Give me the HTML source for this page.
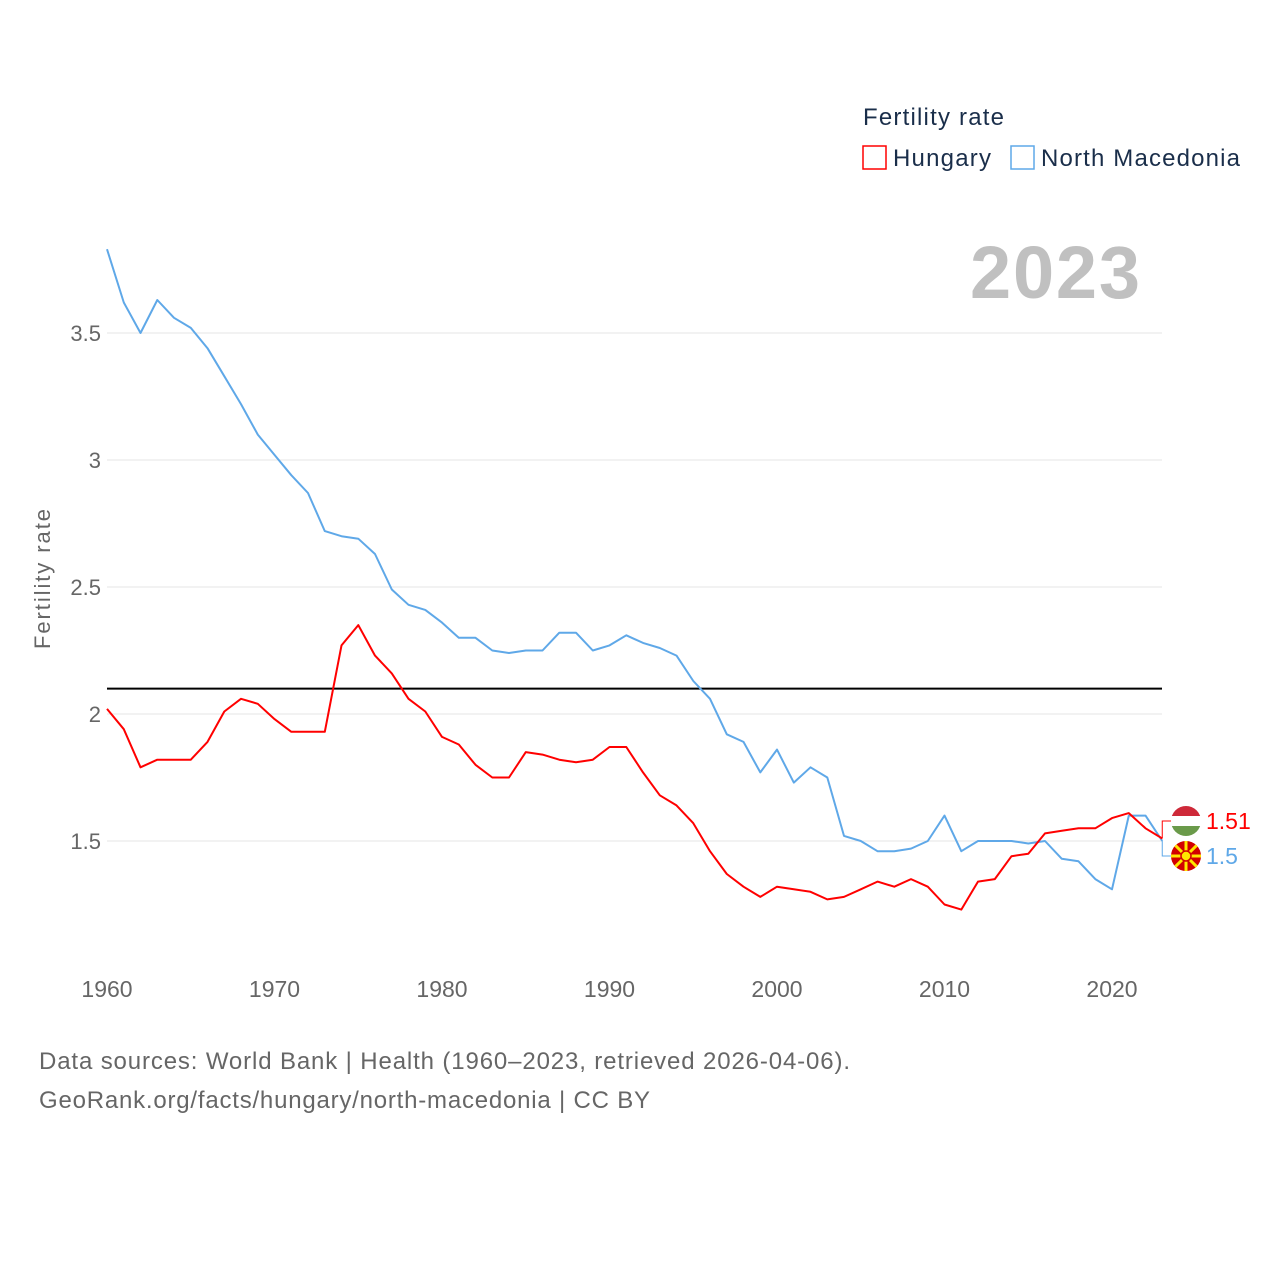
<!DOCTYPE html>
<html><head><meta charset="utf-8"><style>
body{margin:0;background:#fff;}
svg text{font-family:"Liberation Sans",sans-serif;}
</style></head><body>
<svg id="chart" width="1280" height="1280" viewBox="0 0 1280 1280" xmlns="http://www.w3.org/2000/svg">
<g id="grid"></g>
<g id="yticks"></g>
<g id="xticks"></g>
<text x="50" y="579" transform="rotate(-90 50 579)" text-anchor="middle" font-size="22" fill="#666" textLength="140">Fertility rate</text>
<text x="970" y="298" font-size="74" font-weight="bold" fill="#c0c0c0" textLength="170">2023</text>
<g>
<text x="863" y="125" font-size="24" fill="#1a2e4a" textLength="141">Fertility rate</text>
<g><rect x="863" y="146" width="23" height="23" fill="none" stroke="#f00" stroke-width="1.5"/><text x="893" y="166" font-size="24" fill="#1a2e4a" textLength="98">Hungary</text></g>
<g><rect x="1011" y="146" width="23" height="23" fill="none" stroke="#5fa8e8" stroke-width="1.5"/><text x="1041" y="166" font-size="24" fill="#1a2e4a" textLength="199">North Macedonia</text></g>
</g>
<g id="series"></g>
<g id="endlabels"></g>
<text x="39" y="1069" font-size="24" fill="#666" textLength="811">Data sources: World Bank | Health (1960–2023, retrieved 2026-04-06).</text>
<text x="39" y="1108" font-size="24" fill="#666" textLength="611">GeoRank.org/facts/hungary/north-macedonia | CC BY</text>
</svg>
<script>
const startYear = 1960;
const hungary = [2.02,1.94,1.79,1.82,1.82,1.82,1.89,2.01,2.06,2.04,1.98,1.93,1.93,1.93,2.27,2.35,2.23,2.16,2.06,2.01,1.91,1.88,1.80,1.75,1.75,1.85,1.84,1.82,1.81,1.82,1.87,1.87,1.77,1.68,1.64,1.57,1.46,1.37,1.32,1.28,1.32,1.31,1.30,1.27,1.28,1.31,1.34,1.32,1.35,1.32,1.25,1.23,1.34,1.35,1.44,1.45,1.53,1.54,1.55,1.55,1.59,1.61,1.55,1.51];
const macedonia = [3.83,3.62,3.50,3.63,3.56,3.52,3.44,3.33,3.22,3.10,3.02,2.94,2.87,2.72,2.70,2.69,2.63,2.49,2.43,2.41,2.36,2.30,2.30,2.25,2.24,2.25,2.25,2.32,2.32,2.25,2.27,2.31,2.28,2.26,2.23,2.13,2.06,1.92,1.89,1.77,1.86,1.73,1.79,1.75,1.52,1.50,1.46,1.46,1.47,1.50,1.60,1.46,1.50,1.50,1.50,1.49,1.50,1.43,1.42,1.35,1.31,1.60,1.60,1.50];
const yTicks = [1.5,2,2.5,3,3.5];
const yTickLabels = ["1.5","2","2.5","3","3.5"];
const xTicks = [1960,1970,1980,1990,2000,2010,2020];
const replacement = 2.1;
const NS="http://www.w3.org/2000/svg";
const X = yr => 107 + (yr-1960)*16.75;
const Y = v => 841 - (v-1.5)*254;
function mk(tag, attrs, parent){const e=document.createElementNS(NS,tag);for(const k in attrs)e.setAttribute(k,attrs[k]);parent.appendChild(e);return e;}
const grid=document.getElementById('grid'), yt=document.getElementById('yticks'), xt=document.getElementById('xticks');
yTicks.forEach((v,i)=>{
  const l=mk('line',{x1:107,x2:1162,y1:Y(v),y2:Y(v),stroke:'#e6e6e6','stroke-width':1},grid);
  
  
  const t=mk('text',{x:101,y:Y(v)+8,'text-anchor':'end','font-size':22,fill:'#666'},yt);
  t.textContent=yTickLabels[i];
  
  
});
xTicks.forEach(yr=>{
  const t=mk('text',{x:X(yr),y:997,'text-anchor':'middle','font-size':23,fill:'#666'},xt);
  t.textContent=yr;
  
  
});
const s=document.getElementById('series');
const ref=mk('line',{x1:107,x2:1162,y1:Y(replacement),y2:Y(replacement),stroke:'#000','stroke-width':2},s);


function path(arr,color,name){
  const d=arr.map((v,i)=>(i?'L':'M')+X(startYear+i).toFixed(1)+','+Y(v).toFixed(1)).join('');
  const p=mk('path',{d:d,fill:'none',stroke:color,'stroke-width':2,'stroke-linejoin':'round'},s);
  
  
}
path(macedonia,'#5fa8e8','north-macedonia-line');
path(hungary,'#f00','hungary-line');
const el=document.getElementById('endlabels');
const lastX=X(startYear+hungary.length-1);
const hv=hungary[hungary.length-1], mv=macedonia[macedonia.length-1];
const hy=821, my=856;
mk('path',{d:`M${lastX},${Y(hv)}V${hy}H1172`,fill:'none',stroke:'#f00','stroke-width':1},el);
mk('path',{d:`M${lastX},${Y(mv)}V${my}H1172`,fill:'none',stroke:'#5fa8e8','stroke-width':1},el);
const hf=mk('g',{},el);


const cp=mk('clipPath',{id:'c1'},hf);
mk('circle',{cx:1186,cy:hy,r:15},cp);
const g1=mk('g',{'clip-path':'url(#c1)'},hf);
mk('rect',{x:1171,y:hy-15,width:30,height:10,fill:'#ce2939'},g1);
mk('rect',{x:1171,y:hy-5,width:30,height:10,fill:'#fff'},g1);
mk('rect',{x:1171,y:hy+5,width:30,height:10,fill:'#6a9a4a'},g1);
const ht=mk('text',{x:1206,y:hy+8,'font-size':23,fill:'#f00'},el);
ht.textContent=String(hv);


const mf=mk('g',{},el);


mk('circle',{cx:1186,cy:my,r:15,fill:'#d20000'},mf);
for(let a=0;a<8;a++){const ang=a*Math.PI/4;mk('line',{x1:1186,y1:my,x2:1186+15*Math.cos(ang),y2:my+15*Math.sin(ang),stroke:'#ffe600','stroke-width':3},mf);}
mk('circle',{cx:1186,cy:my,r:5,fill:'#ffe600',stroke:'#d20000','stroke-width':1.5},mf);
const mt=mk('text',{x:1206,y:my+8,'font-size':23,fill:'#5fa8e8'},el);
mt.textContent=String(mv);


</script>
</body></html>
